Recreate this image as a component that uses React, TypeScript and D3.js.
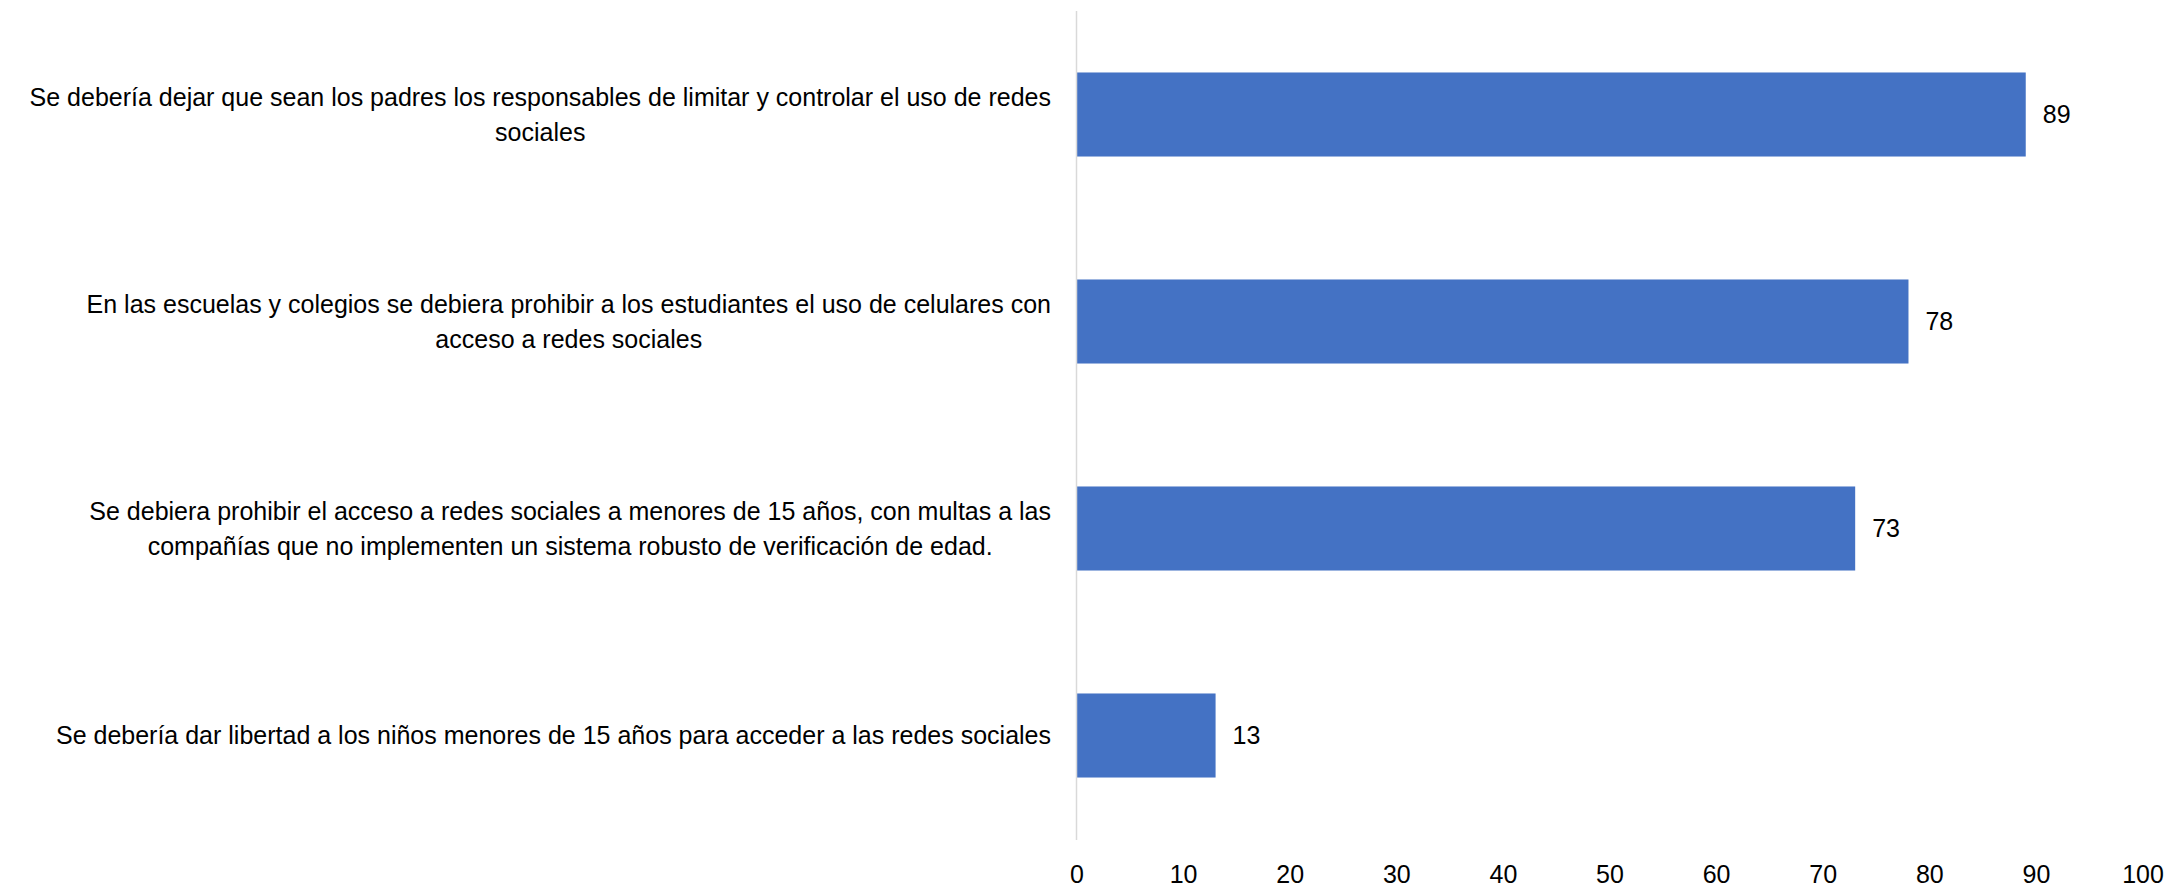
import React, { useEffect, useRef } from 'react';
import * as d3 from 'd3';

// Categories, top to bottom (line breaks as in the original chart)
const categories: string[] = [
  'Se debería dejar que sean los padres los responsables de limitar y controlar el uso de redes\nsociales',
  'En las escuelas y colegios se debiera prohibir a los estudiantes el uso de celulares con\nacceso a redes sociales',
  'Se debiera prohibir el acceso a redes sociales a menores de 15 años, con multas a las\ncompañías que no implementen un sistema robusto de verificación de edad.',
  'Se debería dar libertad a los niños menores de 15 años para acceder a las redes sociales',
];
const values: number[] = [89, 78, 73, 13];
const xTicks: number[] = [0, 10, 20, 30, 40, 50, 60, 70, 80, 90, 100];

const WIDTH = 2169;
const HEIGHT = 889;
const FONT = "'Liberation Sans', Arial, sans-serif";
const FONT_SIZE = 25;

const App: React.FC = () => {
  const svgRef = useRef<SVGSVGElement>(null);

  useEffect(() => {
    if (!svgRef.current) return;
    const svg = d3.select(svgRef.current);
    svg.selectAll('*').remove();

    const x = d3.scaleLinear().domain([0, 100]).range([1077, 2143]);
    const y = d3.scaleBand<string>()
      .domain(categories)
      .range([11, 839])
      .paddingInner(0.594)
      .paddingOuter(0.297);

    // bars
    svg.append('g')
      .selectAll('rect')
      .data(values)
      .join('rect')
      .attr('x', x(0))
      .attr('y', (_d, i) => y(categories[i])!)
      .attr('width', d => x(d) - x(0))
      .attr('height', y.bandwidth())
      .attr('fill', '#4472C4');

    // vertical axis line
    svg.append('line')
      .attr('x1', x(0) - 0.5)
      .attr('x2', x(0) - 0.5)
      .attr('y1', 11)
      .attr('y2', 840)
      .attr('stroke', '#d9d9d9')
      .attr('stroke-width', 1.5);

    // value labels
    svg.append('g')
      .selectAll('text')
      .data(values)
      .join('text')
      .attr('x', d => x(d) + 17)
      .attr('y', (_d, i) => y(categories[i])! + y.bandwidth() / 2)
      .attr('dy', '0.35em')
      .attr('font-family', FONT)
      .attr('font-size', FONT_SIZE)
      .attr('fill', '#000')
      .text(d => d);

    // x tick labels
    svg.append('g')
      .selectAll('text')
      .data(xTicks)
      .join('text')
      .attr('x', d => x(d))
      .attr('y', 883)
      .attr('text-anchor', 'middle')
      .attr('font-family', FONT)
      .attr('font-size', FONT_SIZE)
      .attr('fill', '#000')
      .text(d => d);

    // category labels: each block centred, right edge at 1051
    const lineH = 35;
    categories.forEach(cat => {
      const lines = cat.split('\n');
      const cy = y(cat)! + y.bandwidth() / 2;
      const g = svg.append('g');
      const texts = lines.map((ln, j) =>
        g.append('text')
          .attr('y', cy + (j - (lines.length - 1) / 2) * lineH)
          .attr('dy', '0.35em')
          .attr('text-anchor', 'middle')
          .attr('font-family', FONT)
          .attr('font-size', FONT_SIZE)
          .attr('fill', '#000')
          .text(ln)
      );
      const maxW = d3.max(texts, t => (t.node() as SVGTextElement).getComputedTextLength()) || 0;
      texts.forEach(t => t.attr('x', 1051 - maxW / 2));
    });
  }, []);

  return (
    <div style={{ position: 'absolute', left: 0, top: 0, background: '#fff' }}>
      <svg ref={svgRef} width={WIDTH} height={HEIGHT} style={{ display: 'block' }} />
    </div>
  );
};

export default App;
